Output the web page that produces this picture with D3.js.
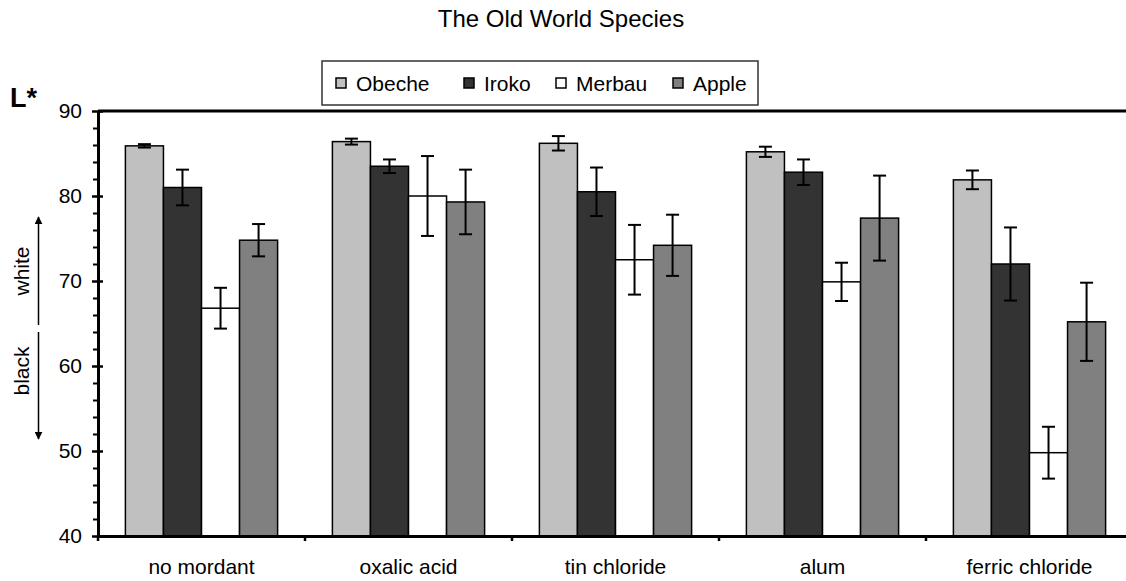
<!doctype html>
<html lang="en">
<head>
<meta charset="utf-8">
<title>The Old World Species</title>
<script src="https://cdnjs.cloudflare.com/ajax/libs/d3/7.8.5/d3.min.js"></script>
<style>
  body { margin: 0; background: #fff; }
  svg { display: block; font-family: "Liberation Sans", Arial, sans-serif; }
  .axis path, .axis line { stroke: #000; }
  .axis text { font-size: 21px; fill: #000; }
</style>
</head>
<body>
<svg width="1126" height="581"></svg>
<script>
const categories = ["no mordant", "oxalic acid", "tin chloride", "alum", "ferric chloride"];
const series = ["Obeche", "Iroko", "Merbau", "Apple"];
const obeche = [85.9, 86.4, 86.2, 85.2, 81.9];
const obecheErr = [0.2, 0.35, 0.85, 0.6, 1.1];
const iroko = [81.0, 83.5, 80.5, 82.8, 72.0];
const irokoErr = [2.1, 0.8, 2.85, 1.5, 4.3];
const merbau = [66.8, 80.0, 72.5, 69.9, 49.8];
const merbauErr = [2.4, 4.7, 4.1, 2.25, 3.05];
const apple = [74.8, 79.3, 74.2, 77.4, 65.2];
const appleErr = [1.9, 3.8, 3.6, 5.0, 4.6];
const yTicks = [40, 50, 60, 70, 80, 90];

const values = [obeche, iroko, merbau, apple];
const errors = [obecheErr, irokoErr, merbauErr, appleErr];
const colors = ["#c0c0c0", "#333333", "#ffffff", "#808080"];

const svg = d3.select("svg");
const plotLeft = 98, plotRight = 1133, plotTop = 111, plotBottom = 536;

const x = d3.scaleBand().domain(categories).range([plotLeft, plotRight]);
const xs = d3.scaleBand().domain(series).range([0, x.bandwidth()]).paddingOuter(0.72);
const y = d3.scaleLinear().domain([40, 90]).range([plotBottom, plotTop]);

// rows for bars
const rows = [];
categories.forEach((c, i) => {
  series.forEach((s, j) => {
    rows.push({cat: c, s: s, v: values[j][i], e: errors[j][i], color: colors[j]});
  });
});

// title
svg.append("text")
  .attr("x", 561).attr("y", 27)
  .attr("text-anchor", "middle")
  .style("font-size", "24px")
  .text("The Old World Species");

// bars
svg.append("g").selectAll("rect")
  .data(rows).enter().append("rect")
  .attr("x", d => x(d.cat) + xs(d.s))
  .attr("y", d => y(d.v))
  .attr("width", xs.bandwidth())
  .attr("height", d => y(40) - y(d.v))
  .attr("fill", d => d.color)
  .attr("stroke", "#000")
  .attr("stroke-width", 1.5);

// error bars
const eg = svg.append("g").attr("stroke", "#000").attr("stroke-width", 2);
rows.forEach(d => {
  const cx = x(d.cat) + xs(d.s) + xs.bandwidth() / 2;
  eg.append("line").attr("x1", cx).attr("x2", cx).attr("y1", y(d.v + d.e)).attr("y2", y(d.v - d.e));
  [d.v + d.e, d.v - d.e].forEach(v => {
    eg.append("line").attr("x1", cx - 6.5).attr("x2", cx + 6.5).attr("y1", y(v)).attr("y2", y(v));
  });
});

// top frame line
svg.append("line")
  .attr("x1", plotLeft).attr("x2", plotRight)
  .attr("y1", y(90)).attr("y2", y(90))
  .attr("stroke", "#000").attr("stroke-width", 3);

// y axis: minor ticks
const minor = d3.range(42, 90, 2).filter(v => v % 10 !== 0);
svg.append("g").attr("class", "axis")
  .attr("transform", `translate(${plotLeft},0)`)
  .call(d3.axisLeft(y).tickValues(minor).tickSize(5).tickFormat(""))
  .call(g => g.select(".domain").remove())
  .call(g => g.selectAll("line").attr("stroke-width", 2));

// y axis: major ticks crossing
svg.append("g").attr("class", "axis")
  .attr("transform", `translate(${plotLeft},0)`)
  .call(d3.axisRight(y).tickValues(yTicks).tickSize(5).tickFormat(""))
  .call(g => g.select(".domain").remove())
  .call(g => g.selectAll("line").attr("stroke-width", 2.5));

svg.append("g").attr("class", "axis")
  .attr("transform", `translate(${plotLeft},0)`)
  .call(d3.axisLeft(y).tickValues(yTicks).tickSize(6).tickSizeOuter(0).tickPadding(10))
  .call(g => g.select(".domain").attr("stroke-width", 3))
  .call(g => g.selectAll(".tick line").attr("stroke-width", 2.5));

// x axis
svg.append("g").attr("class", "axis")
  .attr("transform", `translate(0,${plotBottom})`)
  .call(d3.axisBottom(x).tickSize(0).tickPadding(23))
  .call(g => g.select(".domain").attr("stroke-width", 3));

// category boundary ticks
svg.append("g").selectAll("line")
  .data([categories[0]].concat(categories.slice(1))).enter().append("line")
  .attr("x1", d => x(d)).attr("x2", d => x(d))
  .attr("y1", plotBottom).attr("y2", plotBottom + 5)
  .attr("stroke", "#000").attr("stroke-width", 2.5);

// L* label
svg.append("text")
  .attr("x", 10).attr("y", 107)
  .style("font-size", "27px").style("font-weight", "bold")
  .text("L*");

// white / black arrows
svg.append("defs").append("marker")
  .attr("id", "arr").attr("viewBox", "0 0 10 10")
  .attr("refX", 9).attr("refY", 5)
  .attr("markerWidth", 8).attr("markerHeight", 8)
  .attr("markerUnits", "userSpaceOnUse")
  .attr("orient", "auto")
  .append("path").attr("d", "M0,0L10,5L0,10Z").attr("fill", "#000");

svg.append("line").attr("x1", 38.5).attr("x2", 38.5).attr("y1", 325).attr("y2", 217)
  .attr("stroke", "#000").attr("stroke-width", 1.5).attr("marker-end", "url(#arr)");
svg.append("line").attr("x1", 38.5).attr("x2", 38.5).attr("y1", 332).attr("y2", 439)
  .attr("stroke", "#000").attr("stroke-width", 1.5).attr("marker-end", "url(#arr)");

svg.append("text")
  .attr("transform", "translate(29,271) rotate(-90)")
  .attr("text-anchor", "middle")
  .style("font-size", "21px")
  .text("white");
svg.append("text")
  .attr("transform", "translate(29,371) rotate(-90)")
  .attr("text-anchor", "middle")
  .style("font-size", "21px")
  .text("black");

// legend
const lg = svg.append("g");
lg.append("rect")
  .attr("x", 322).attr("y", 61).attr("width", 436).attr("height", 44)
  .attr("fill", "#fff").attr("stroke", "#333").attr("stroke-width", 1.5);
const legX = [336, 464, 556, 673];
series.forEach((s, j) => {
  lg.append("rect")
    .attr("x", legX[j]).attr("y", 78).attr("width", 10).attr("height", 10)
    .attr("fill", colors[j]).attr("stroke", "#000").attr("stroke-width", 1.5);
  lg.append("text")
    .attr("x", legX[j] + 20).attr("y", 91)
    .style("font-size", "21px")
    .text(s);
});
</script>
</body>
</html>
